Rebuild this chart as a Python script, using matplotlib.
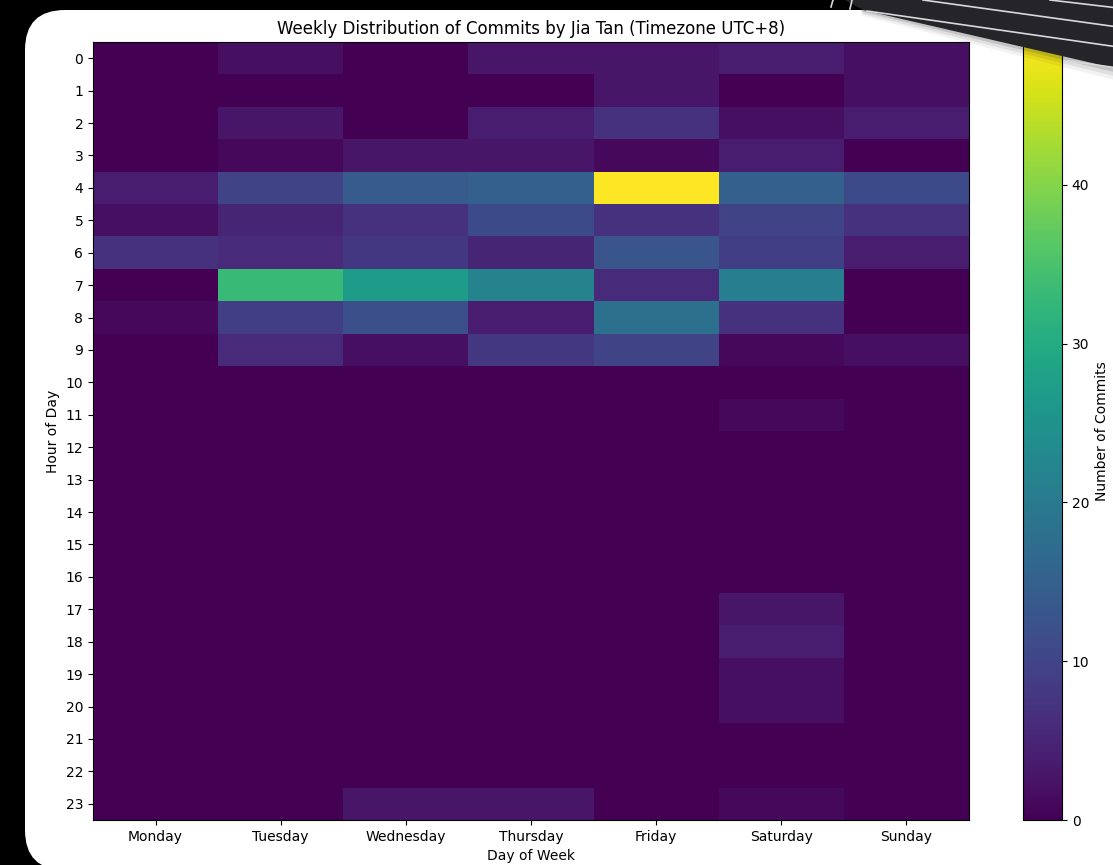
import numpy as np
import matplotlib
matplotlib.use("Agg")
import matplotlib.pyplot as plt
from matplotlib.patches import FancyBboxPatch, Polygon
from matplotlib.lines import Line2D

days = ["Monday", "Tuesday", "Wednesday", "Thursday", "Friday", "Saturday", "Sunday"]
hours = list(range(24))

# commit counts per hour (rows) and weekday (columns: Mon..Sun)
h00 = [0, 2, 0, 3, 3, 4, 2]
h01 = [0, 0, 0, 0, 3, 0, 2]
h02 = [0, 3, 0, 4, 7, 2, 4]
h03 = [0, 1, 3, 3, 1, 4, 0]
h04 = [4, 10, 14, 15, 49, 15, 11]
h05 = [2, 5, 7, 11, 7, 10, 7]
h06 = [7, 6, 8, 5, 13, 9, 4]
h07 = [0, 33, 27, 22, 6, 21, 0]
h08 = [1, 9, 12, 4, 18, 7, 0]
h09 = [0, 6, 2, 8, 10, 1, 2]
h10 = [0, 0, 0, 0, 0, 0, 0]
h11 = [0, 0, 0, 0, 0, 1, 0]
h12 = [0, 0, 0, 0, 0, 0, 0]
h13 = [0, 0, 0, 0, 0, 0, 0]
h14 = [0, 0, 0, 0, 0, 0, 0]
h15 = [0, 0, 0, 0, 0, 0, 0]
h16 = [0, 0, 0, 0, 0, 0, 0]
h17 = [0, 0, 0, 0, 0, 3, 0]
h18 = [0, 0, 0, 0, 0, 4, 0]
h19 = [0, 0, 0, 0, 0, 2, 0]
h20 = [0, 0, 0, 0, 0, 2, 0]
h21 = [0, 0, 0, 0, 0, 0, 0]
h22 = [0, 0, 0, 0, 0, 0, 0]
h23 = [0, 0, 3, 3, 0, 1, 0]

counts = np.array([h00, h01, h02, h03, h04, h05, h06, h07, h08, h09, h10, h11,
                   h12, h13, h14, h15, h16, h17, h18, h19, h20, h21, h22, h23])

W, H = 1113, 865
fig = plt.figure(figsize=(W / 100, H / 100), dpi=100)
fig.patch.set_facecolor("black")

def px(x, y):
    """pixel coords (origin top-left) -> inches for dpi_scale_trans"""
    return x / 100, (H - y) / 100

# white rounded card behind everything
card = FancyBboxPatch(px(25, 870), (W + 60 - 25) / 100, (870 - 10) / 100,
                      boxstyle="round,pad=0,rounding_size=0.4",
                      transform=fig.dpi_scale_trans, facecolor="white",
                      edgecolor="none", zorder=-5)
fig.patches.append(card)

ax = fig.add_axes([93 / W, 1 - 820 / H, (969 - 93) / W, (820 - 42) / H])
mesh = ax.imshow(counts, aspect="auto", cmap="viridis", vmin=0, vmax=counts.max(),
                 interpolation="nearest")
ax.set_xticks(range(len(days)))
ax.set_xticklabels(days, fontsize=10)
ax.set_yticks(hours)
ax.set_yticklabels([str(h) for h in hours], fontsize=10)
ax.set_xlabel("Day of Week", fontsize=10)
ax.set_ylabel("Hour of Day", fontsize=10)
ax.set_title("Weekly Distribution of Commits by Jia Tan (Timezone UTC+8)", fontsize=12)

cax = fig.add_axes([1023 / W, 1 - 820 / H, 39 / W, (820 - 42) / H])
cb = fig.colorbar(mesh, cax=cax)
cb.set_ticks([0, 10, 20, 30, 40])
cb.ax.tick_params(labelsize=10)
cb.set_label("Number of Commits", fontsize=10)

# dark striped sheet overlapping the top-right corner, with a soft shadow
shadow_layers = [(4, 0.12), (8, 0.08), (12, 0.05)]
for off, a in shadow_layers:
    shp = Polygon([px(855, 0), px(W + 5, 0), px(W + 5, 69 + off), px(863, 10 + off * 0.5)],
                  closed=True, transform=fig.dpi_scale_trans, facecolor="black",
                  alpha=a, edgecolor="none", zorder=5)
    fig.patches.append(shp)
sheet = Polygon([px(845, 0), px(W + 5, 0), px(W + 5, 69), px(863, 10)], closed=True,
                transform=fig.dpi_scale_trans, facecolor="#252429", edgecolor="none",
                zorder=6)
fig.patches.append(sheet)
stripe_specs = [((867, 11), (W + 5, 47)), ((923, 0), (W + 5, 27)),
                ((1050, 0), (W + 5, 8)), ((1068, 61), (W + 5, 68)),
                ((833, 0), (831, 7)), ((852, 0), (850, 9))]
for (x0, y0), (x1, y1) in stripe_specs:
    a0, b0 = px(x0, y0)
    a1, b1 = px(x1, y1)
    fig.lines.append(Line2D([a0, a1], [b0, b1], transform=fig.dpi_scale_trans,
                            color="#d8d8dc", lw=1.2, zorder=7))

fig.savefig("out.png", dpi=100, facecolor=fig.get_facecolor())
